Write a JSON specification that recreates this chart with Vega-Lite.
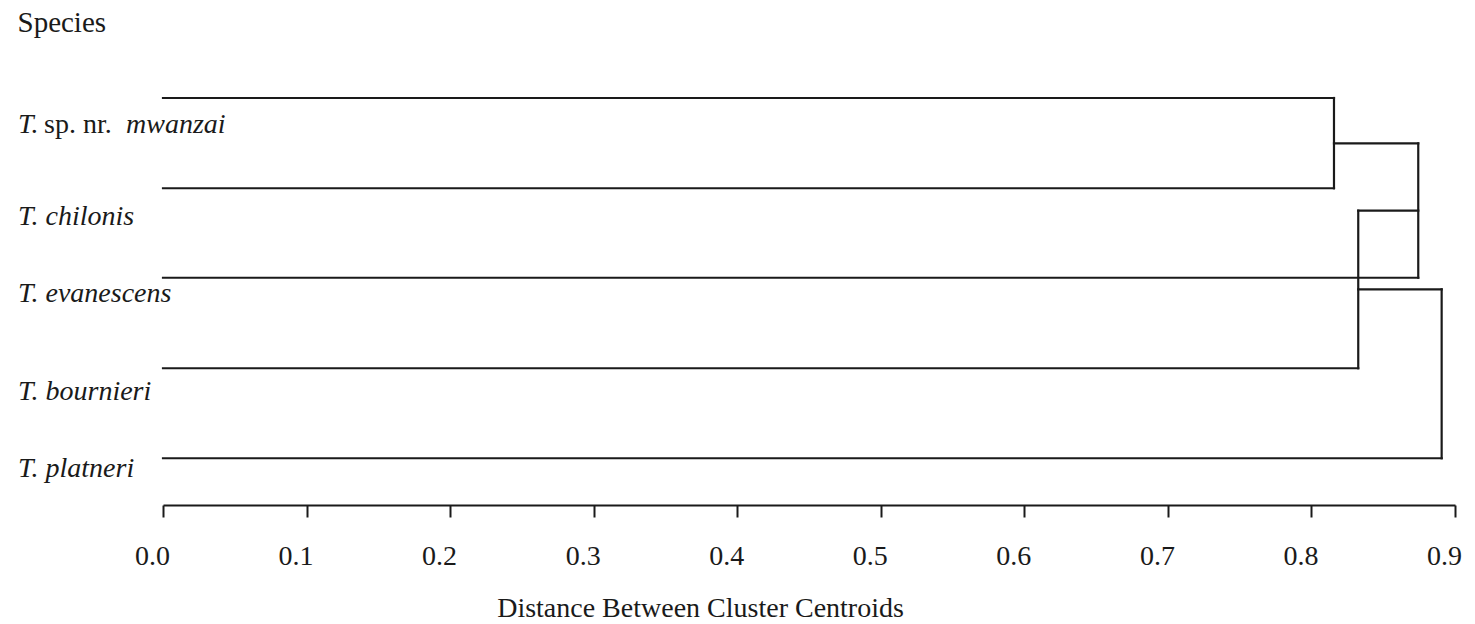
{
  "$schema": "https://vega.github.io/schema/vega-lite/v6.json",
  "autosize": {"type": "none"},
  "width": 1292,
  "height": 497,
  "padding": {"left": 163, "top": 8, "right": 20, "bottom": 119},
  "background": "white",
  "config": {"view": {"stroke": null}, "font": "Liberation Serif"},
  "datasets": {
    "links": [
      {"part": "leaf T. sp. nr. mwanzai", "x": 0, "x2": 0.8157, "y": 1.0, "y2": 1.0},
      {"part": "leaf T. chilonis", "x": 0, "x2": 0.8157, "y": 2.003, "y2": 2.003},
      {"part": "leaf T. evanescens", "x": 0, "x2": 0.8744, "y": 2.997, "y2": 2.997},
      {"part": "leaf T. bournieri", "x": 0, "x2": 0.8326, "y": 4.003, "y2": 4.003},
      {"part": "leaf T. platneri", "x": 0, "x2": 0.8907, "y": 5.003, "y2": 5.003},
      {"part": "join", "x": 0.8157, "x2": 0.8157, "y": 1.0, "y2": 2.003},
      {"part": "join", "x": 0.8157, "x2": 0.8744, "y": 1.504, "y2": 1.504},
      {"part": "join", "x": 0.8744, "x2": 0.8744, "y": 1.504, "y2": 2.997},
      {"part": "join", "x": 0.8326, "x2": 0.8744, "y": 2.252, "y2": 2.252},
      {"part": "join", "x": 0.8326, "x2": 0.8326, "y": 2.252, "y2": 4.003},
      {"part": "join", "x": 0.8326, "x2": 0.8907, "y": 3.126, "y2": 3.126},
      {"part": "join", "x": 0.8907, "x2": 0.8907, "y": 3.126, "y2": 5.003}
    ],
    "labels": [
      {"name": "T. sp. nr. mwanzai", "genus": "T.", "qualifier": "sp. nr.", "epithet": "mwanzai", "pos": 1.389},
      {"name": "T. chilonis", "genus": "T.", "qualifier": "", "epithet": "chilonis", "pos": 2.411},
      {"name": "T. evanescens", "genus": "T.", "qualifier": "", "epithet": "evanescens", "pos": 3.267},
      {"name": "T. bournieri", "genus": "T.", "qualifier": "", "epithet": "bournieri", "pos": 4.356},
      {"name": "T. platneri", "genus": "T.", "qualifier": "", "epithet": "platneri", "pos": 5.211}
    ]
  },
  "layer": [
    {
      "data": {"name": "links"},
      "mark": {"type": "rule", "color": "#1a1a1a", "strokeWidth": 2.2, "strokeCap": "square"},
      "encoding": {
        "x": {
          "field": "x", "type": "quantitative",
          "scale": {"domain": [0, 0.9], "nice": false, "zero": false},
          "axis": {
            "title": "Distance Between Cluster Centroids",
            "values": [0, 0.1, 0.2, 0.3, 0.4, 0.5, 0.6, 0.7, 0.8, 0.9],
            "format": ".1f",
            "grid": false,
            "domainColor": "#1a1a1a", "domainWidth": 2.2,
            "tickColor": "#1a1a1a", "tickWidth": 2, "tickSize": 12,
            "labelFont": "Liberation Serif", "labelFontSize": 28, "labelColor": "#1a1a1a",
            "labelPadding": 25, "labelOffset": -11, "labelFlush": false, "labelOverlap": false,
            "titleFont": "Liberation Serif", "titleFontSize": 28, "titleFontWeight": "normal", "titleColor": "#1a1a1a",
            "titleX": 537, "titleY": 111, "titleBaseline": "alphabetic", "titleAlign": "center"
          }
        },
        "x2": {"field": "x2"},
        "y": {
          "field": "y", "type": "quantitative",
          "scale": {"domain": [0, 5.5222], "reverse": true, "nice": false, "zero": false},
          "axis": {
            "title": "Species",
            "domain": false, "ticks": false, "labels": false, "grid": false,
            "titleAngle": 0, "titleAlign": "left", "titleBaseline": "alphabetic",
            "titleX": -146, "titleY": 23,
            "titleFont": "Liberation Serif", "titleFontSize": 29, "titleFontWeight": "normal", "titleColor": "#1a1a1a"
          }
        },
        "y2": {"field": "y2"}
      }
    },
    {
      "data": {"name": "labels"},
      "transform": [{"filter": "datum.qualifier === ''"}],
      "mark": {"type": "text", "align": "left", "baseline": "alphabetic", "font": "Liberation Serif", "fontSize": 28, "fontStyle": "italic", "color": "#1a1a1a", "dx": -145},
      "encoding": {
        "x": {"datum": 0, "type": "quantitative"},
        "y": {"field": "pos", "type": "quantitative", "scale": {"domain": [0, 5.5222], "reverse": true, "nice": false, "zero": false}},
        "text": {"field": "name"}
      }
    },
    {
      "data": {"name": "labels"},
      "transform": [{"filter": "datum.qualifier !== ''"}],
      "mark": {"type": "text", "align": "left", "baseline": "alphabetic", "font": "Liberation Serif", "fontSize": 28, "fontStyle": "italic", "color": "#1a1a1a", "dx": -145},
      "encoding": {
        "x": {"datum": 0, "type": "quantitative"},
        "y": {"field": "pos", "type": "quantitative", "scale": {"domain": [0, 5.5222], "reverse": true, "nice": false, "zero": false}},
        "text": {"field": "genus"}
      }
    },
    {
      "data": {"name": "labels"},
      "transform": [{"filter": "datum.qualifier !== ''"}],
      "mark": {"type": "text", "align": "left", "baseline": "alphabetic", "font": "Liberation Serif", "fontSize": 28, "fontStyle": "normal", "color": "#1a1a1a", "dx": -119},
      "encoding": {
        "x": {"datum": 0, "type": "quantitative"},
        "y": {"field": "pos", "type": "quantitative", "scale": {"domain": [0, 5.5222], "reverse": true, "nice": false, "zero": false}},
        "text": {"field": "qualifier"}
      }
    },
    {
      "data": {"name": "labels"},
      "transform": [{"filter": "datum.qualifier !== ''"}],
      "mark": {"type": "text", "align": "left", "baseline": "alphabetic", "font": "Liberation Serif", "fontSize": 28, "fontStyle": "italic", "color": "#1a1a1a", "dx": -37},
      "encoding": {
        "x": {"datum": 0, "type": "quantitative"},
        "y": {"field": "pos", "type": "quantitative", "scale": {"domain": [0, 5.5222], "reverse": true, "nice": false, "zero": false}},
        "text": {"field": "epithet"}
      }
    }
  ]
}
